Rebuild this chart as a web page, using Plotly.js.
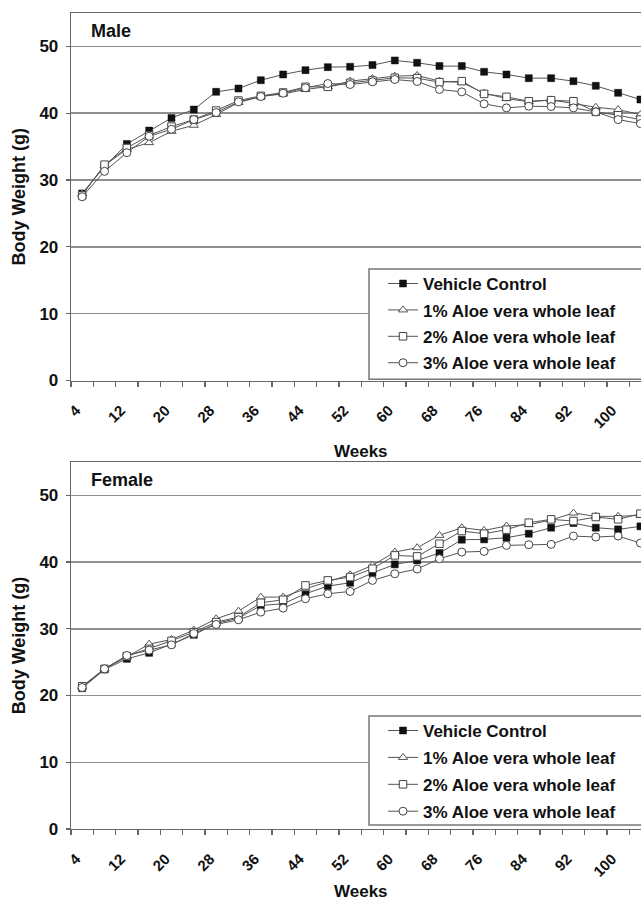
<!DOCTYPE html>
<html>
<head>
<meta charset="utf-8">
<script src="https://cdn.plot.ly/plotly-3.0.1.min.js"></script>
<style>html,body{margin:0;padding:0;background:#fff;}#chart{width:641px;height:904px;}</style>
</head>
<body>
<div id="chart"></div>
<script>
// ---- data ----
const weeks = [4,8,12,16,20,24,28,32,36,40,44,48,52,56,60,64,68,72,76,80,84,88,92,96,100,104];
const tickWeeks = [4,12,20,28,36,44,52,60,68,76,84,92,100];
const tickLabels = ["4","12","20","28","36","44","52","60","68","76","84","92","100"];
const seriesNames = ["Vehicle Control","1% Aloe vera whole leaf","2% Aloe vera whole leaf","3% Aloe vera whole leaf"];

const maleVehicle = [28.0,32.0,35.4,37.4,39.3,40.55,43.2,43.7,44.95,45.8,46.45,46.9,46.95,47.2,47.9,47.55,47.05,47.05,46.2,45.8,45.25,45.25,44.8,44.1,43.05,42.05];
const male1pct   = [27.9,32.2,34.6,35.6,37.3,38.2,39.8,41.6,42.5,42.9,43.55,44.0,44.8,45.2,45.55,45.65,44.8,44.6,43.0,42.2,41.7,42.0,41.45,40.9,40.55,39.8];
const male2pct   = [27.7,32.3,34.8,36.7,38.0,39.05,40.4,41.9,42.6,43.1,43.95,43.95,44.55,44.9,45.3,45.25,44.65,44.8,42.9,42.45,41.8,41.95,41.8,40.2,39.7,39.05];
const male3pct   = [27.5,31.3,34.1,36.55,37.6,39.05,40.1,41.7,42.5,43.0,43.8,44.45,44.3,44.7,45.05,44.75,43.55,43.2,41.4,40.8,41.05,41.0,40.8,40.2,39.05,38.45];

const femaleVehicle = [21.1,23.9,25.5,26.4,27.7,29.1,30.8,31.6,33.5,33.75,35.25,36.4,36.9,38.35,39.65,40.25,41.35,43.35,43.4,43.65,44.25,45.15,45.85,45.15,44.9,45.35];
const female1pct   = [21.3,24.0,25.8,27.7,28.4,29.8,31.5,32.65,34.75,34.75,36.0,37.0,38.1,39.5,41.5,42.15,44.0,45.15,44.75,45.4,45.6,46.3,47.35,46.85,46.85,47.0];
const female2pct   = [21.4,24.0,25.9,27.0,28.2,29.5,31.0,31.75,33.9,34.35,36.5,37.25,37.75,39.0,41.0,40.85,42.75,44.65,44.25,44.85,45.9,46.4,46.15,46.75,46.4,47.25];
const female3pct   = [21.2,24.0,26.0,26.8,27.6,29.3,30.65,31.35,32.5,33.1,34.5,35.25,35.6,37.25,38.25,38.95,40.5,41.5,41.6,42.5,42.6,42.65,43.9,43.75,43.9,42.85];

// ---- styles ----
const FONT = "Liberation Sans, Arial, Helvetica, sans-serif";
const TXT = "#111";
const styles = [
  {symbol:"square", size:7, fill:"#111", lc:"#111", lw:0.5},
  {symbol:"triangle-up", size:8, fill:"#fff", lc:"#555", lw:1},
  {symbol:"square", size:7.5, fill:"#fff", lc:"#444", lw:1},
  {symbol:"circle", size:8, fill:"#fff", lc:"#444", lw:1}
];

function makeTraces(arrs, xa, ya, legendId, groupPrefix){
  return arrs.map((vals,i)=>({
    type:"scatter", mode:"lines+markers",
    x: weeks, y: vals, xaxis: xa, yaxis: ya,
    name: seriesNames[i], legend: legendId, legendgroup: groupPrefix+i,
    line:{color:"#555", width:1},
    marker:{symbol: styles[i].symbol, size: styles[i].size, color: styles[i].fill,
            line:{color: styles[i].lc, width: styles[i].lw}},
    showlegend:true
  }));
}

const data = [
  ...makeTraces([maleVehicle, male1pct, male2pct, male3pct], "x", "y", "legend", "m"),
  ...makeTraces([femaleVehicle, female1pct, female2pct, female3pct], "x2", "y2", "legend2", "f")
];

// tick boundaries between categories (derived from weeks)
const boundaries = weeks.map(w => w - 2).concat([weeks[weeks.length-1] + 2]);

function xAxis(anchor){
  return {
    anchor: anchor, type:"linear", range:[2, 104.1],
    tickmode:"array", tickvals: tickWeeks, ticktext: tickLabels,
    ticks:"", tickangle:-45, ticklabelstandoff:14, ticklabelshift:-6,
    tickfont:{family:FONT, size:15, weight:"bold", color:TXT},
    minor:{tickmode:"array", tickvals: boundaries, ticks:"outside", ticklen:5, tickwidth:1.2, tickcolor:"#666", showgrid:false},
    showline:true, linecolor:"#666", linewidth:1.3, mirror:true,
    showgrid:false, zeroline:false
  };
}
function yAxis(anchor, domain){
  return {
    anchor: anchor, domain: domain, range:[0,55],
    tickmode:"array", tickvals:[0,10,20,30,40,50],
    ticks:"outside", ticklen:4, tickwidth:1.2, tickcolor:"#666", ticklabelstandoff:4,
    tickfont:{family:FONT, size:17, weight:"bold", color:TXT},
    showline:true, linecolor:"#666", linewidth:1.3,
    showgrid:true, gridcolor:"#8f8f8f", gridwidth:1.5, zeroline:false,
    title:{text:"Body Weight (g)", font:{family:FONT, size:18, weight:"bold", color:TXT}, standoff:9}
  };
}

const legendFont = {family:FONT, size:17, weight:"bold", color:TXT};
const titleFont = {family:FONT, size:18, weight:"bold", color:TXT};
const layout = {
  width:641, height:904,
  margin:{l:71, r:0, t:13, b:75},
  paper_bgcolor:"#fff", plot_bgcolor:"#fff",
  showlegend:true,
  xaxis: xAxis("y"),
  yaxis: yAxis("x", [0.5496, 1]),
  xaxis2: xAxis("y2"),
  yaxis2: yAxis("x2", [0, 0.4498]),
  legend:{x:0.5474, xanchor:"left", y:0.6900, yanchor:"top", bgcolor:"rgba(0,0,0,0)", borderwidth:0,
          font:legendFont, tracegroupgap:1.3, itemwidth:30, traceorder:"grouped"},
  legend2:{x:0.5474, xanchor:"left", y:0.1422, yanchor:"top", bgcolor:"rgba(0,0,0,0)", borderwidth:0,
          font:legendFont, tracegroupgap:1.8, itemwidth:30, traceorder:"grouped"},
  shapes:[
    {type:"rect", xref:"paper", yref:"paper", x0:0.5228, x1:1.05, y0:0.5511, y1:0.6863,
     fillcolor:"#fff", line:{color:"#777", width:1.5}, layer:"above"},
    {type:"rect", xref:"paper", yref:"paper", x0:0.5228, x1:1.05, y0:0.0049, y1:0.1385,
     fillcolor:"#fff", line:{color:"#777", width:1.5}, layer:"above"}
  ],
  annotations:[
    {text:"Male", xref:"paper", yref:"paper", x:0.0316, y:0.978, xanchor:"left", yanchor:"middle",
     showarrow:false, font:titleFont},
    {text:"Female", xref:"paper", yref:"paper", x:0.0316, y:0.4277, xanchor:"left", yanchor:"middle",
     showarrow:false, font:titleFont},
    {text:"Weeks", xref:"paper", yref:"paper", x:0.5088, y:0.4632, xanchor:"center", yanchor:"middle",
     showarrow:false, font:{family:FONT, size:17, weight:"bold", color:TXT}},
    {text:"Weeks", xref:"paper", yref:"paper", x:0.5088, y:-0.0907, xanchor:"center", yanchor:"bottom",
     showarrow:false, font:{family:FONT, size:17, weight:"bold", color:TXT}}
  ]
};

Plotly.newPlot("chart", data, layout, {displayModeBar:false, staticPlot:true});
</script>
</body>
</html>
